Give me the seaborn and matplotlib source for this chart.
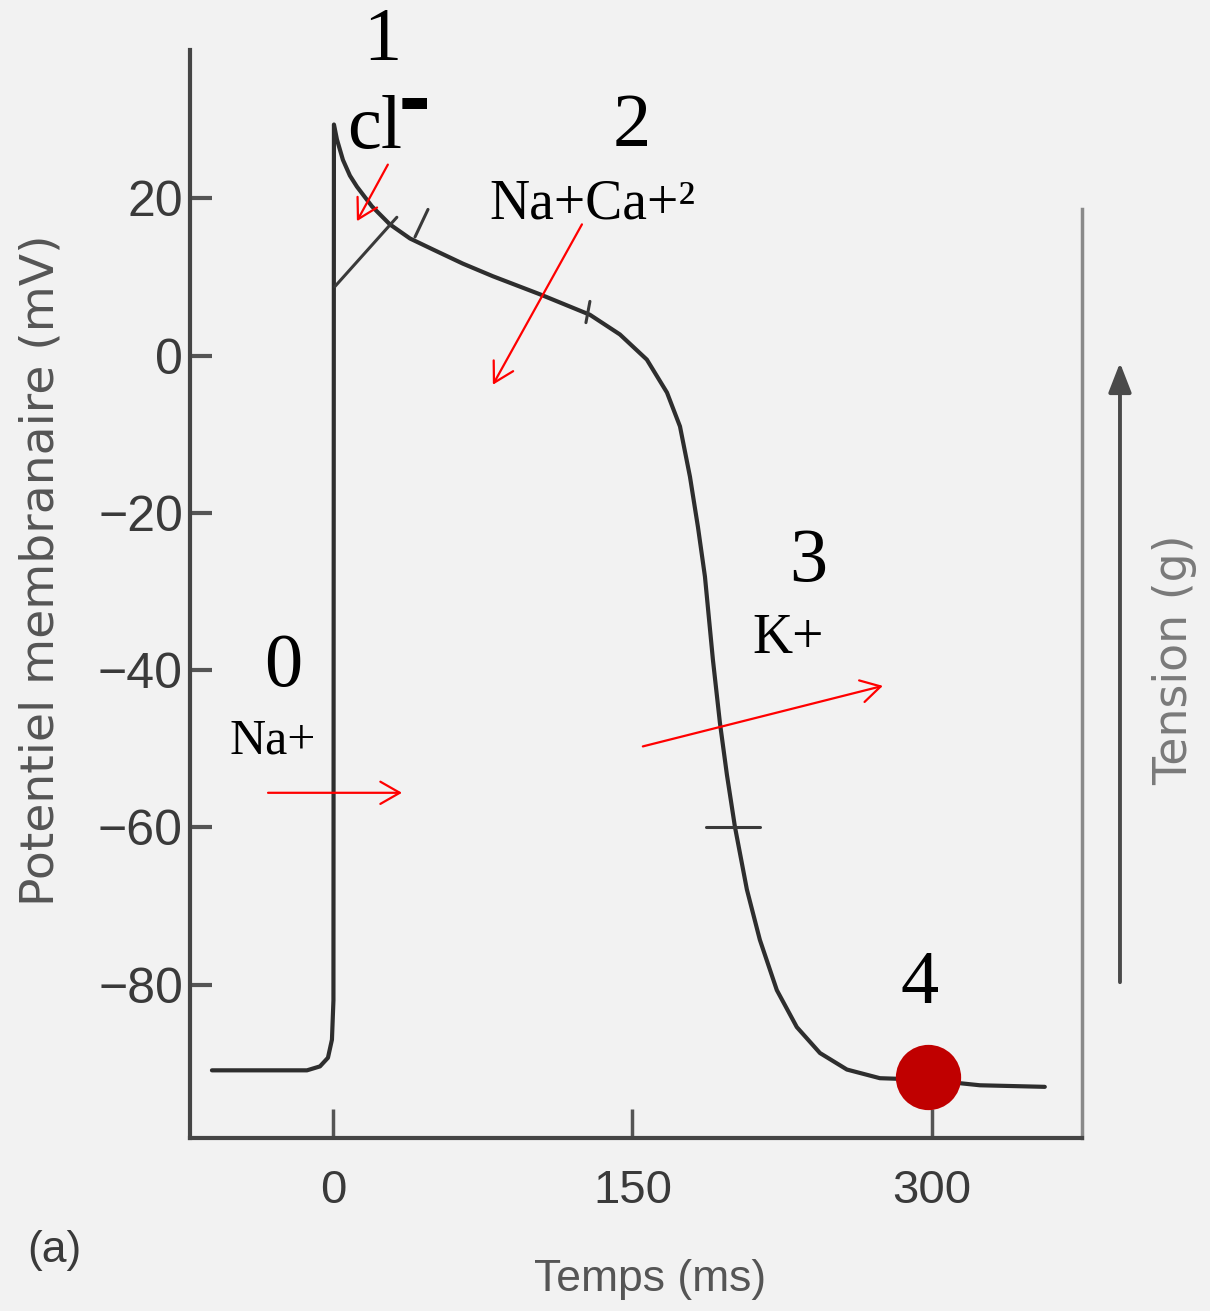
import pandas as pd
import matplotlib
matplotlib.use("Agg")
import matplotlib.pyplot as plt
import seaborn as sns

# Action potential curve (time in ms, membrane potential in mV)
temps = [-60.6, -13.0, -6.5, -2.5, -0.5, 0.25, 0.5, 2.0, 5.0, 8.5, 12.0, 19.5, 28.5,
         38.6, 50.1, 65.1, 80.1, 103.7, 128.7, 143.7, 157.2, 167.3, 173.8, 178.8,
         182.8, 186.3, 190.3, 193.8, 197.3, 201.3, 207.3, 213.8, 222.3, 232.3,
         243.9, 257.4, 273.9, 297.4, 324.0, 356.5]
potentiel = [-90.9, -90.9, -90.4, -89.3, -87.0, -82.0, 29.4, 27.5, 24.9, 22.9, 21.5, 19.0, 16.7,
             14.9, 13.5, 11.7, 10.1, 7.8, 5.2, 2.7, -0.5, -4.7, -9.0, -15.4,
             -21.8, -28.1, -38.7, -46.7, -53.3, -59.9, -67.9, -74.3, -80.7, -85.4,
             -88.7, -90.8, -91.9, -92.1, -92.8, -93.0]

# little refractory-period marks drawn across the curve (t0, v0, t1, v1)
refractory_marks = [
    (1.0, 8.8, 32.0, 17.6),
    (41.1, 15.1, 47.6, 18.6),
    (128.7, 6.9, 126.7, 4.2),
    (186.8, -60.0, 213.8, -60.0),
]

x_ticks = [0, 150, 300]
y_ticks = [20, 0, -20, -40, -60, -80]

# phase annotations
phase_labels = ["0", "1", "2", "3", "4"]
phase_label_pos = [(-25.0, -39.7), (25.0, 39.9), (149.7, 29.0), (237.9, -26.3), (293.9, -80.0)]
ion_labels = ["Na+", "cl", "Na+Ca+²", "K+"]
ion_pos = [(-30.0, -49.1), (21.0, 28.8), (129.7, 19.2), (227.8, -36.1)]
arrow_start = [(-32.5, -55.6), (27.5, 24.3), (124.7, 16.7), (155.2, -49.7)]
arrow_end = [(34.6, -55.6), (12.0, 17.1), (80.1, -3.7), (275.4, -42.0)]
phase4_point = (297.9, -91.7)

df = pd.DataFrame({"Temps": temps, "Potentiel": potentiel})

sns.set_style("ticks")
plt.rcParams["font.family"] = ["Liberation Sans", "DejaVu Sans"]
narrow = ["Liberation Sans Narrow", "Liberation Sans", "DejaVu Sans"]
serif = ["Liberation Serif", "DejaVu Serif"]
bg = "#f2f2f2"
ink = "#3a3a3a"

fig = plt.figure(figsize=(12.1, 13.11), dpi=100, facecolor=bg)
ax = fig.add_axes([0.157, 0.132, 0.737, 0.830], facecolor=bg)

sns.lineplot(data=df, x="Temps", y="Potentiel", sort=False, color="#2e2e2e",
             linewidth=3.0, ax=ax)
for t0, v0, t1, v1 in refractory_marks:
    ax.plot([t0, t1], [v0, v1], color="#3a3a3a", linewidth=2.2)

ax.set_xlim(-71.6, 375)
ax.set_ylim(-99.5, 38.9)
ax.set_xticks(x_ticks)
ax.set_yticks(y_ticks)
ax.set_xticklabels([str(v) for v in x_ticks], family=narrow, fontsize=34, color=ink)
ax.set_yticklabels([str(v).replace("-", "\u2212") for v in y_ticks], family=narrow,
                   fontsize=36, color=ink)
ax.tick_params(axis="x", direction="in", length=21, width=2.5, pad=22, colors="#555")
ax.tick_params(axis="y", direction="in", length=16, width=3, pad=5, colors="#555")
for lab in ax.get_xticklabels() + ax.get_yticklabels():
    lab.set_color(ink)

ax.spines["top"].set_visible(False)
for side in ["left", "bottom"]:
    ax.spines[side].set_color("#454545")
    ax.spines[side].set_linewidth(3)
ax.spines["right"].set_color("#8a8a8a")
ax.spines["right"].set_linewidth(2.5)
ax.spines["right"].set_bounds(-99.5, 18.6)

ax.set_xlabel("")
ax.set_ylabel("")
fig.text(0.034, 0.565, "Potentiel membranaire (mV)", rotation=90, ha="center",
         va="center", family=["DejaVu Sans"], fontsize=34, color="#555555")
fig.text(0.537, 0.024, "Temps (ms)", ha="center", va="center", family=narrow,
         fontsize=32, color="#555555")
fig.text(0.045, 0.046, "(a)", ha="center", va="center", family=narrow,
         fontsize=32, color=ink)

# tension axis on the right
fig.text(0.971, 0.497, "Tension (g)", rotation=90, ha="center", va="center",
         family=["DejaVu Sans"], fontsize=33, color="#7a7a7a")
fig.patches.append(matplotlib.patches.FancyArrowPatch(
    (0.9256, 0.2487), (0.9256, 0.7254), transform=fig.transFigure,
    arrowstyle="-|>,head_length=0.9,head_width=0.35", mutation_scale=20,
    color="#4a4a4a", linewidth=2.8))

# red annotations
for lab, (t, v) in zip(phase_labels, phase_label_pos):
    ax.text(t, v, lab, ha="center", va="center", family=serif, fontsize=55,
            color="black", clip_on=False)
ion_sizes = [36, 55, 40, 40]
for lab, (t, v), fs in zip(ion_labels, ion_pos, ion_sizes):
    ax.text(t, v, lab, ha="center", va="center", family=serif, fontsize=fs,
            color="black", clip_on=False)
ax.text(40.6, 32.0, "-", ha="center", va="center", family=["DejaVu Sans"],
        fontsize=58, fontweight="bold", color="black")
for (t0, v0), (t1, v1) in zip(arrow_start, arrow_end):
    ax.annotate("", xy=(t1, v1), xytext=(t0, v0),
                arrowprops=dict(arrowstyle="->,head_length=0.7,head_width=0.4",
                                mutation_scale=20, color="red", lw=1.6,
                                shrinkA=0, shrinkB=0))
ax.plot(phase4_point[0], phase4_point[1], "o", color="#c00000", markersize=47,
        markeredgewidth=0, zorder=5)

fig.savefig("out.png", dpi=100, facecolor=bg)
